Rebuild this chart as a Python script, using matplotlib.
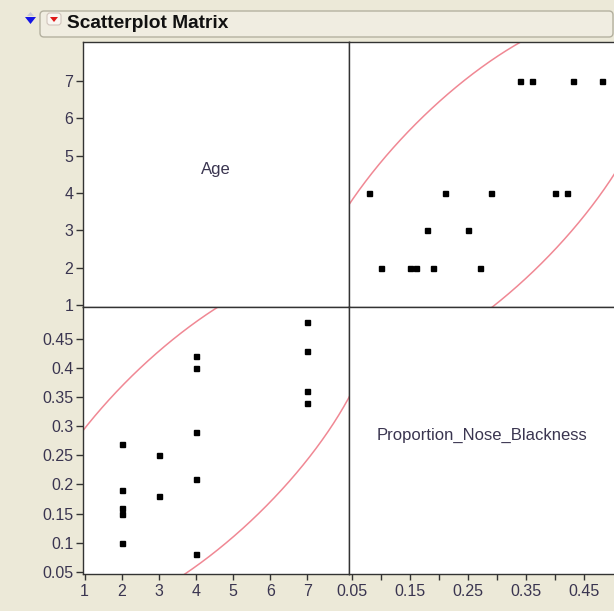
import numpy as np
import matplotlib
matplotlib.use("Agg")
import matplotlib.pyplot as plt
from matplotlib.patches import FancyBboxPatch, Polygon

age = np.array([2, 2, 2, 2, 2, 3, 3, 4, 4, 4, 4, 4, 7, 7, 7, 7])
nose = np.array([0.10, 0.15, 0.16, 0.19, 0.27, 0.18, 0.25,
                 0.08, 0.21, 0.29, 0.40, 0.42,
                 0.34, 0.36, 0.43, 0.48])

age_ticks = [1, 2, 3, 4, 5, 6, 7]
nose_ticks = [0.05, 0.1, 0.15, 0.2, 0.25, 0.3, 0.35, 0.4, 0.45]
nose_tick_labels = ["0.05", "0.1", "0.15", "0.2", "0.25", "0.3", "0.35", "0.4", "0.45"]
nose_x_labels = ["0.05", "", "0.15", "", "0.25", "", "0.35", "", "0.45"]

AGE_YLIM = (0.947, 8.04)
AGE_XLIM = (0.957, 8.12)
NOSE_YLIM = (0.046, 0.505)
NOSE_XLIM = (0.0454, 0.503)

BG = "#ECE9D8"
TXT = "#3a3550"
ELL = "#F08894"
FRAME = "#333333"

plt.rcParams["font.family"] = ["Liberation Sans", "DejaVu Sans"]


def density_ellipse(x, y, level=0.95, n=400):
    """95% bivariate normal density ellipse, as JMP draws it."""
    cov = np.cov(x, y)
    L = np.linalg.cholesky(cov)
    r = np.sqrt(-2 * np.log(1 - level))
    t = np.linspace(0, 2 * np.pi, n)
    pts = L @ np.vstack([np.cos(t), np.sin(t)]) * r
    return x.mean() + pts[0], y.mean() + pts[1]


fig = plt.figure(figsize=(6.14, 6.11), dpi=100, facecolor=BG)

# overlay in pixel coords for the title bar
ov = fig.add_axes([0, 0, 1, 1], zorder=-1)
ov.set_xlim(0, 614)
ov.set_ylim(611, 0)
ov.axis("off")
ov.add_patch(FancyBboxPatch((40, 11), 573, 26, boxstyle="round,pad=0,rounding_size=4",
                            fc="#F0EDE1", ec="#B4B1A0", lw=1))
ov.add_patch(Polygon([(25, 17), (36, 17), (30.5, 24)], closed=True, fc="#1414E6", ec="none"))
ov.add_patch(Polygon([(27, 16), (34, 16), (30.5, 12)], closed=True, fc="#C8C8D8", ec="none"))
ov.add_patch(FancyBboxPatch((47, 13), 14, 12, boxstyle="round,pad=0,rounding_size=3",
                            fc="#FAF6F2", ec="#D0C4BC", lw=0.8))
ov.add_patch(Polygon([(50, 17), (58, 17), (54, 22)], closed=True, fc="#E01818", ec="none"))
ov.text(67, 24, "Scatterplot Matrix", fontsize=13.8, fontweight="bold",
        va="center", ha="left", color="#111111")

left, midx, right = 83 / 614, 349 / 614, 1.002
top, midy, bottom = 1 - 42 / 611, 1 - 307 / 611, 1 - 574 / 611
w1, w2 = midx - left, right - midx
h1, h2 = top - midy, midy - bottom

ax_tl = fig.add_axes([left, midy, w1, h1])
ax_tr = fig.add_axes([midx, midy, w2, h1])
ax_bl = fig.add_axes([left, bottom, w1, h2])
ax_br = fig.add_axes([midx, bottom, w2, h2])

for ax in (ax_tl, ax_tr, ax_bl, ax_br):
    ax.set_facecolor("white")
    for s in ax.spines.values():
        s.set_color(FRAME)
        s.set_linewidth(1.0)
    ax.tick_params(length=0, labelsize=11.5, colors=FRAME, labelcolor=TXT)
    ax.set_xticks([])
    ax.set_yticks([])
for ax in (ax_tr, ax_br):
    ax.spines["right"].set_visible(False)

# diagonal labels
ax_tl.set_xlim(AGE_XLIM)
ax_tl.set_ylim(AGE_YLIM)
ax_tl.text(0.5, 0.52, "Age", transform=ax_tl.transAxes, ha="center", va="center",
           fontsize=12, color=TXT)
ax_tl.set_yticks(age_ticks)
ax_tl.tick_params(axis="y", length=5, width=1, pad=2)

ax_br.set_xlim(NOSE_XLIM)
ax_br.set_ylim(NOSE_YLIM)
ax_br.text(0.5, 0.52, "Proportion_Nose_Blackness", transform=ax_br.transAxes,
           ha="center", va="center", fontsize=12, color=TXT)
ax_br.set_xticks(nose_ticks)
ax_br.set_xticklabels(nose_x_labels)
ax_br.tick_params(axis="x", length=4.5, width=1, pad=3)

# top right: Age vs nose
ex, ey = density_ellipse(nose, age)
ax_tr.plot(ex, ey, color=ELL, lw=1.1)
ax_tr.plot(nose, age, "s", color="black", ms=3.6, mec="black", ls="none")
ax_tr.set_xlim(NOSE_XLIM)
ax_tr.set_ylim(AGE_YLIM)

# bottom left: nose vs Age
ex, ey = density_ellipse(age, nose)
ax_bl.plot(ex, ey, color=ELL, lw=1.1)
ax_bl.plot(age, nose, "s", color="black", ms=3.6, mec="black", ls="none")
ax_bl.set_xlim(AGE_XLIM)
ax_bl.set_ylim(NOSE_YLIM)
ax_bl.set_xticks(age_ticks)
ax_bl.set_yticks(nose_ticks)
ax_bl.set_yticklabels(nose_tick_labels)
ax_bl.tick_params(axis="y", length=5, width=1, pad=2)
ax_bl.tick_params(axis="x", length=4.5, width=1, pad=3)

fig.savefig("out.png", dpi=100, facecolor=BG)
